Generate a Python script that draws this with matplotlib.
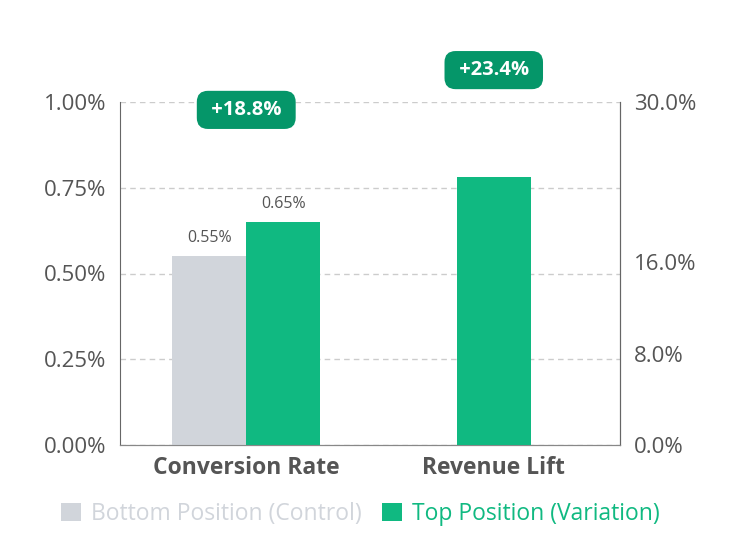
import matplotlib
matplotlib.use("Agg")
import matplotlib.pyplot as plt
from matplotlib.patches import Patch
import matplotlib.transforms as mtransforms

plt.rcParams['font.family'] = ['Open Sans', 'DejaVu Sans']

categories = ["Conversion Rate", "Revenue Lift"]
series_names = ["Bottom Position (Control)", "Top Position (Variation)"]
conv_control = 0.55
conv_variation = 0.65
rev_control = 0.0
rev_variation = 23.4
badges = ["+18.8%", "+23.4%"]
left_ticks = [0, 0.25, 0.5, 0.75, 1.0]
right_ticks = [0, 8, 16, 30]

GRAY = "#d1d5db"
GREEN = "#10b981"
DARK_GREEN = "#059669"
TEXT = "#555555"

fig = plt.figure(figsize=(7.36, 5.48), dpi=100)
ax = fig.add_axes([120/736, 1-445/548, 500/736, 343/548])
ax2 = ax.twinx()

w = 0.3
ax.bar(0 - w/2, conv_control, width=w, color=GRAY, zorder=3)
ax.bar(0 + w/2, conv_variation, width=w, color=GREEN, zorder=3)
ax2.bar(1, rev_control, width=w, color=GRAY, edgecolor="#6b7280", linewidth=1.2, zorder=3)
ax2.bar(1, rev_variation, width=w, color=GREEN, zorder=3)

ax.text(0 - w/2, conv_control + 0.03, f"{conv_control:.2f}%", ha="center", va="bottom",
        fontsize=11.5, color=TEXT)
ax.text(0 + w/2, conv_variation + 0.03, f"{conv_variation:.2f}%", ha="center", va="bottom",
        fontsize=11.5, color=TEXT)

ax.set_xlim(-0.51, 1.51)
ax.set_ylim(0, 1.0)
ax2.set_ylim(0, 30)
ax.set_yticks(left_ticks)
ax.set_yticklabels([f"{v:.2f}%" for v in left_ticks])
ax2.set_yticks(right_ticks)
ax2.set_yticklabels([f"{v:.1f}%" for v in right_ticks])
ax.set_xticks([0, 1])
ax.set_xticklabels(categories, fontweight="bold", fontsize=16.5, color=TEXT)

ax.tick_params(axis="y", length=0, labelsize=16, labelcolor=TEXT, pad=10)
ax2.tick_params(axis="y", length=0, labelsize=16, labelcolor=TEXT, pad=10)
ax.tick_params(axis="x", length=0, pad=8)

ax.yaxis.grid(True, linestyle=(0, (4, 3)), color="#cccccc", linewidth=1)
ax.set_axisbelow(True)
for a in (ax, ax2):
    a.spines["top"].set_visible(False)
    a.spines["left"].set_color("#666666")
    a.spines["right"].set_color("#666666")
    a.spines["bottom"].set_color("#888888")
    a.patch.set_visible(False)
ax2.spines["left"].set_visible(False)
ax2.set_zorder(ax.get_zorder() + 1)

trans = mtransforms.blended_transform_factory(ax.transData, ax.transAxes)
badge_y = [0.977, 1.093]
for i, txt in enumerate(badges):
    ax2.text(i, badge_y[i], " " + txt + " ", transform=trans, ha="center", va="center",
             fontsize=14.5, fontweight="bold", color="white", clip_on=False, zorder=10,
             bbox=dict(boxstyle="round,pad=0.45,rounding_size=0.55", facecolor=DARK_GREEN,
                       edgecolor="none"))

handles = [Patch(facecolor=GRAY, edgecolor="none"), Patch(facecolor=GREEN, edgecolor="none")]
leg = fig.legend(handles, series_names, loc="center", bbox_to_anchor=(0.49, 0.062), ncol=2,
                 frameon=False, fontsize=16.5, handlelength=0.85, handleheight=0.85,
                 handletextpad=0.45, columnspacing=0.9)
for t, c in zip(leg.get_texts(), [GRAY, GREEN]):
    t.set_color(c)

fig.savefig("out.png", dpi=100)
